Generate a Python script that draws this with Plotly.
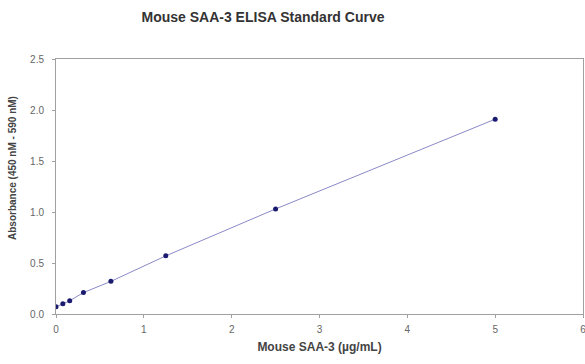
import plotly.graph_objects as go

concentration = [0, 0.078, 0.156, 0.3125, 0.625, 1.25, 2.5, 5]
absorbance = [0.07, 0.10, 0.13, 0.21, 0.32, 0.57, 1.03, 1.91]
x_ticks = [0, 1, 2, 3, 4, 5, 6]
y_ticks = [0.0, 0.5, 1.0, 1.5, 2.0, 2.5]
y_tick_labels = ["0.0", "0.5", "1.0", "1.5", "2.0", "2.5"]

W, H = 585, 364
fig = go.Figure()
fig.add_trace(go.Scatter(
    x=concentration, y=absorbance, mode="lines",
    line=dict(color="#8a8ac8", width=1), hoverinfo="skip", showlegend=False))
fig.add_trace(go.Scatter(
    x=concentration, y=absorbance, mode="markers",
    marker=dict(color="#1a1a6e", size=5), showlegend=False))

font_family = "Liberation Sans, Arial, sans-serif"
fig.update_layout(
    width=W, height=H,
    margin=dict(l=56, r=2, t=59, b=50),
    paper_bgcolor="white", plot_bgcolor="white",
    title=dict(text="<b>Mouse SAA-3 ELISA Standard Curve</b>", x=263 / W, xanchor="center",
               y=1 - 17 / H, yanchor="middle",
               font=dict(family=font_family, size=14, color="#333333")),
    xaxis=dict(range=[0, 6], tickvals=x_ticks, showgrid=False, zeroline=False,
               showline=True, linecolor="#a0a0a0", linewidth=1, mirror=True,
               ticks="outside", ticklen=3, tickcolor="#a0a0a0", automargin=False,
               ticklabeloverflow="allow", ticklabelstandoff=3,
               tickfont=dict(family=font_family, size=10, color="#666666"),
               title=dict(text="<b>Mouse SAA-3 (µg/mL)</b>", standoff=8,
                          font=dict(family=font_family, size=12, color="#444444"))),
    yaxis=dict(range=[0, 2.5], tickvals=y_ticks, ticktext=y_tick_labels, showgrid=False,
               zeroline=False, showline=True, linecolor="#a0a0a0", linewidth=1, mirror=True,
               ticks="outside", ticklen=3, tickcolor="#a0a0a0", automargin=False,
               ticklabelstandoff=6,
               tickfont=dict(family=font_family, size=10, color="#666666")),
    annotations=[dict(text="<b>Absorbance (450 nM - 590 nM)</b>", textangle=-90,
                      xref="paper", yref="paper", x=-44 / (W - 58), y=1 - (168 - 59) / (314 - 59),
                      xanchor="center", yanchor="middle", showarrow=False,
                      font=dict(family=font_family, size=10, color="#444444"))],
)

fig.write_html("out.html", post_script="document.body.style.margin='0';",
               config={"displayModeBar": False})
